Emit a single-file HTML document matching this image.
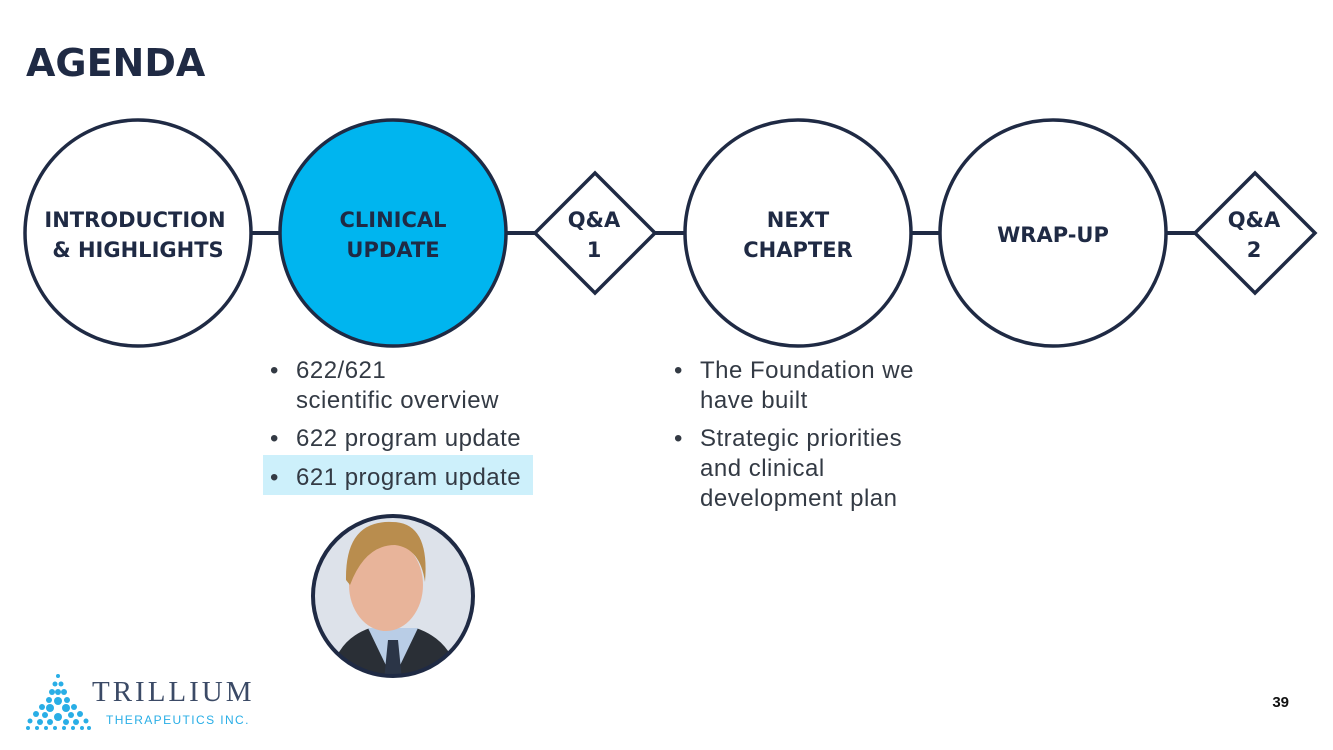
<!DOCTYPE html>
<html><head><meta charset="utf-8"><style>
html,body{margin:0;padding:0;background:#fff;}
svg{display:block;}
.h{font-family:"DejaVu Sans","Liberation Sans",sans-serif;font-weight:bold;fill:#1f2a44;}
.b{font-family:"Liberation Sans",sans-serif;fill:#333a44;font-size:24px;letter-spacing:0.5px;}
</style></head><body>
<svg width="1333" height="750" viewBox="0 0 1333 750" xmlns="http://www.w3.org/2000/svg">
<text x="26" y="76" class="h" font-size="38" letter-spacing="0">AGENDA</text>
<line x1="140" y1="233" x2="1255" y2="233" stroke="#1f2a44" stroke-width="4"/>
<g stroke="#1f2a44" stroke-width="3.5">
<ellipse cx="138" cy="233" rx="113" ry="113" fill="#fff"/>
<ellipse cx="393" cy="233" rx="113" ry="113" fill="#00b5ef"/>
<polygon points="595,173 655,233 595,293 535,233" fill="#fff"/>
<ellipse cx="798" cy="233" rx="113" ry="113" fill="#fff"/>
<ellipse cx="1053" cy="233" rx="113" ry="113" fill="#fff"/>
<polygon points="1255,173 1315,233 1255,293 1195,233" fill="#fff"/>
</g>
<g class="h" font-size="21" text-anchor="middle">
<text x="135" y="227">INTRODUCTION</text><text x="138" y="257">&amp; HIGHLIGHTS</text>
<text x="393" y="227">CLINICAL</text><text x="393" y="257">UPDATE</text>
<text x="594" y="227">Q&amp;A</text><text x="594" y="257">1</text>
<text x="798" y="227">NEXT</text><text x="798" y="257">CHAPTER</text>
<text x="1053" y="242">WRAP-UP</text>
<text x="1254" y="227">Q&amp;A</text><text x="1254" y="257">2</text>
</g>
<rect x="263" y="455" width="270" height="40" fill="#cdf0fb"/>
<g class="b">
<text x="270" y="378">•</text><text x="296" y="378">622/621</text>
<text x="296" y="408">scientific overview</text>
<text x="270" y="446">•</text><text x="296" y="446">622 program update</text>
<text x="270" y="485">•</text><text x="296" y="485">621 program update</text>
<text x="674" y="378">•</text><text x="700" y="378">The Foundation we</text>
<text x="700" y="408">have built</text>
<text x="674" y="446">•</text><text x="700" y="446">Strategic priorities</text>
<text x="700" y="476">and clinical</text>
<text x="700" y="506">development plan</text>
</g>
<defs><clipPath id="c"><circle cx="393" cy="596" r="79"/></clipPath></defs>
<g clip-path="url(#c)">
<rect x="310" y="510" width="170" height="170" fill="#dde2ea"/>
<path d="M330 680 Q335 640 370 628 L416 628 Q452 640 460 680 Z" fill="#2a2f36"/>
<path d="M368 628 L393 680 L418 628 Z" fill="#b9cde6"/>
<path d="M388 640 L398 640 L402 680 L384 680 Z" fill="#2b3547"/>
<ellipse cx="386" cy="585" rx="37" ry="46" fill="#e8b49a"/>
<path d="M346 580 Q345 520 392 522 Q430 522 425 582 Q420 548 395 545 Q365 545 350 585 Z" fill="#b98d4e"/>
</g>
<circle cx="393" cy="596" r="80" fill="none" stroke="#1f2a44" stroke-width="4"/>
<g fill="#29aee6">
<circle cx="58" cy="676" r="2"/><circle cx="55" cy="684" r="2.5"/><circle cx="61" cy="684" r="2.5"/>
<circle cx="52" cy="692" r="3"/><circle cx="58" cy="692" r="3"/><circle cx="64" cy="692" r="3"/>
<circle cx="49" cy="700" r="3"/><circle cx="58" cy="701" r="4"/><circle cx="67" cy="700" r="3"/>
<circle cx="42" cy="707" r="3"/><circle cx="50" cy="708" r="4"/><circle cx="66" cy="708" r="4"/><circle cx="74" cy="707" r="3"/>
<circle cx="36" cy="714" r="3"/><circle cx="45" cy="715" r="3"/><circle cx="58" cy="717" r="4"/><circle cx="71" cy="715" r="3"/><circle cx="80" cy="714" r="3"/>
<circle cx="30" cy="721" r="2.5"/><circle cx="40" cy="722" r="3"/><circle cx="50" cy="722" r="3"/><circle cx="66" cy="722" r="3"/><circle cx="76" cy="722" r="3"/><circle cx="86" cy="721" r="2.5"/>
<circle cx="28" cy="728" r="2"/><circle cx="37" cy="728" r="2"/><circle cx="46" cy="728" r="2"/><circle cx="55" cy="728" r="2"/><circle cx="64" cy="728" r="2"/><circle cx="73" cy="728" r="2"/><circle cx="82" cy="728" r="2"/><circle cx="89" cy="728" r="2"/>
</g>
<text x="92" y="701" font-family="Liberation Serif,serif" font-size="29" fill="#3b4a66" letter-spacing="3">TRILLIUM</text>
<text x="106" y="724" font-family="Liberation Sans,sans-serif" font-size="12" fill="#29aee6" letter-spacing="1.4">THERAPEUTICS INC.</text>
<text x="1289" y="707" text-anchor="end" font-family="Liberation Sans,sans-serif" font-weight="bold" font-size="15" fill="#111">39</text>
</svg>
</body></html>
